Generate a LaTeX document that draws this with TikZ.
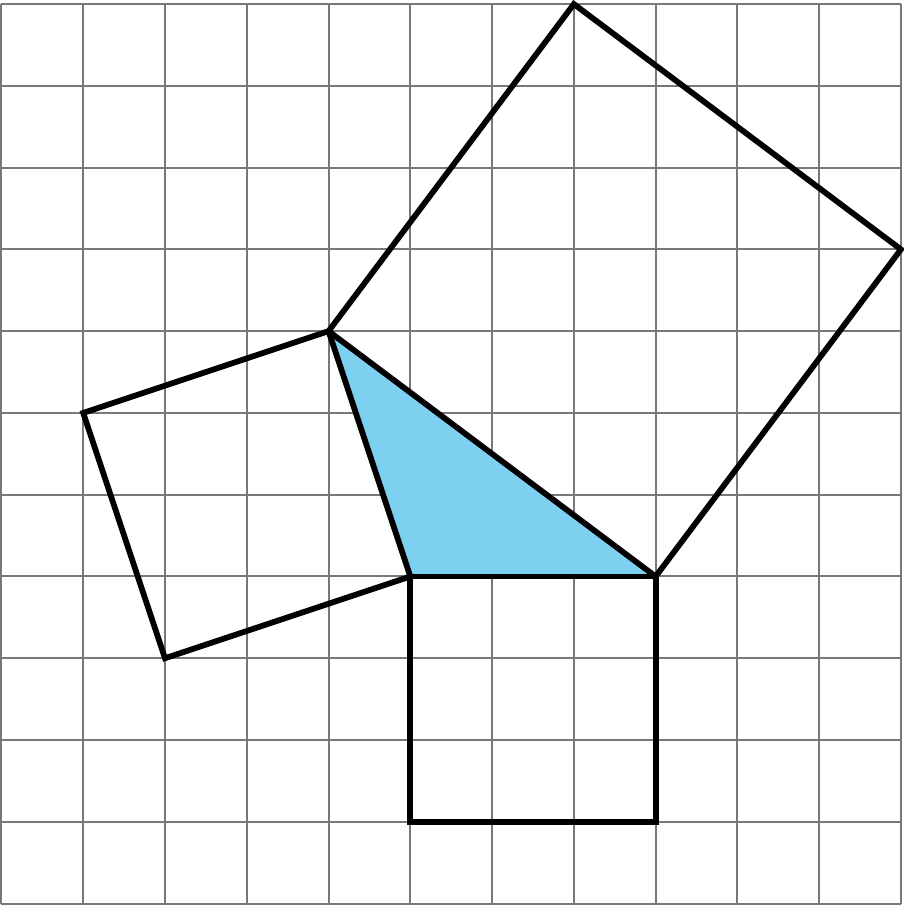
\documentclass[tikz,border=0pt]{standalone}
\definecolor{gridgray}{RGB}{120,120,120}
\definecolor{triblue}{RGB}{125,208,240}
\begin{document}
\begin{tikzpicture}[thick line/.style={draw=black, line width=2pt}]
	\useasboundingbox (-0.018,-0.03) rectangle (11.035,11.05);
	\draw[gridgray, line width=0.7pt] (0,0) grid (11,11);
	\coordinate (A)  at (4, 7);
	\coordinate (B)  at (5, 4);
	\coordinate (C)  at (8, 4);
	\coordinate (L1) at (1, 6);
	\coordinate (L2) at (2, 3);
	\coordinate (D1) at (5, 1);
	\coordinate (D2) at (8, 1);
	\coordinate (T1) at (7, 11);
	\coordinate (T2) at (11, 8);
	\fill[triblue] (A) -- (B) -- (C) -- cycle;
	\draw[thick line] (A) -- (L1) -- (L2) -- (B) -- cycle;
	\draw[thick line] (B) -- (D1) -- (D2) -- (C) -- cycle;
	\draw[thick line] (A) -- (T1) -- (T2) -- (C) -- cycle;
\end{tikzpicture}
\end{document}
